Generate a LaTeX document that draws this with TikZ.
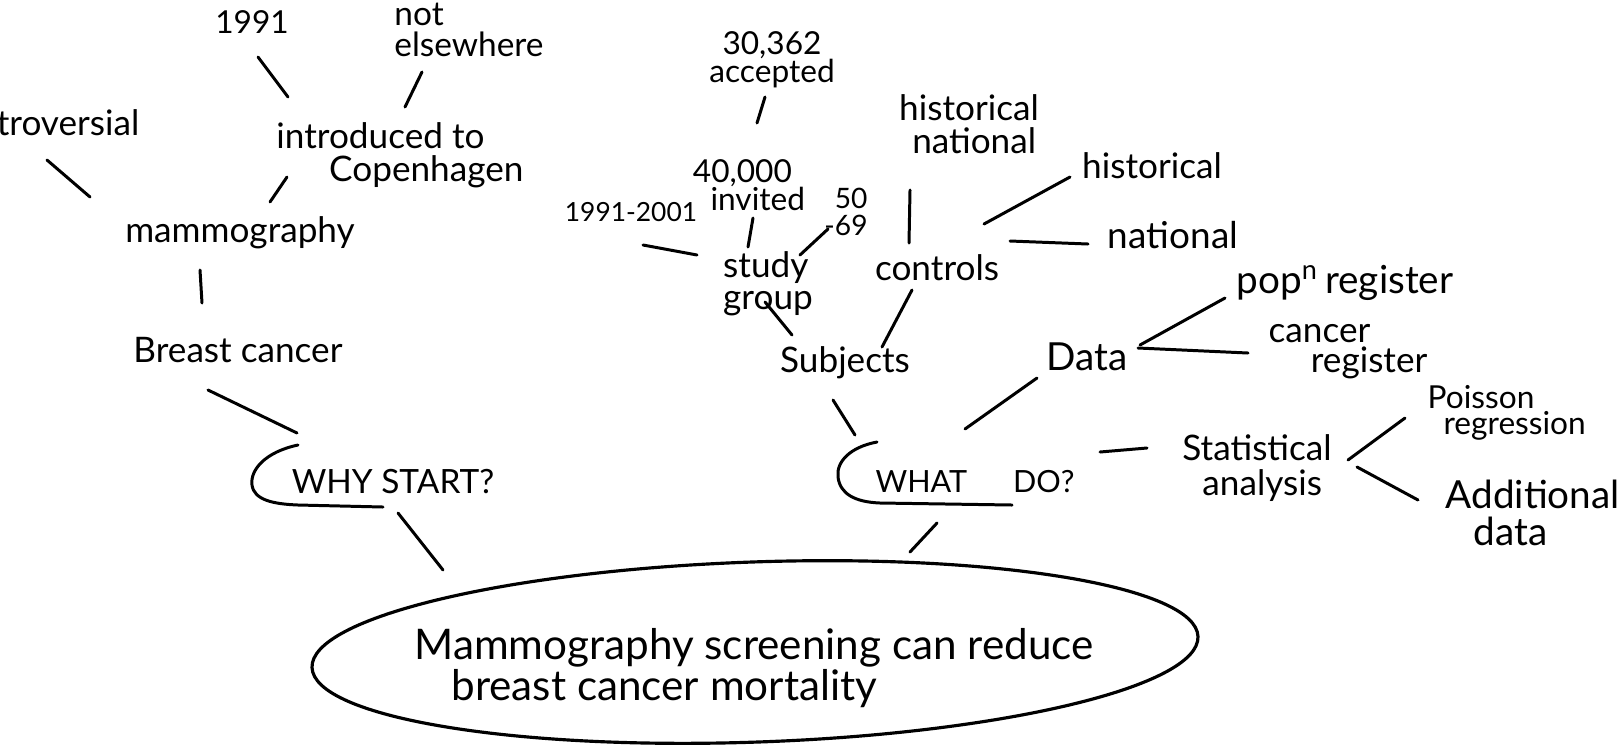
\documentclass[tikz,border=0pt]{standalone}
\usepackage{fontspec}
\setmainfont{Lato}
\usetikzlibrary{shapes.geometric}

\begin{document}
\begin{tikzpicture}[x=0.01cm, y=-0.01cm,
    every node/.style={inner sep=0pt},
    sz/.style 2 args={font=\fontsize{#1}{#2}\selectfont},
    link/.style={line width=0.85pt, line cap=round},
    bracket/.style={line width=0.85pt, line cap=round}]
  \useasboundingbox (0,0) rectangle (1619,745);
  \clip (0,0) rectangle (1619,745);

  % why start
  \node[sz={10}{10}, anchor=east] (contro) at (140,123) {controversial};
  \node[sz={9}{9}] (yr1991) at (252,22) {1991};
  \node[sz={9.5}{9}, align=left] (notelse) at (469,30) {not\\elsewhere};
  \node[sz={10}{9.5}, align=left] (intro) at (400,155) {introduced to\\\hspace*{15pt}Copenhagen};
  \node[sz={10}{10}] (mammo) at (240,233) {mammography};
  \node[sz={10}{10}] (breast) at (238,350) {Breast cancer};
  \node[sz={9.5}{9.5}] (why) at (393,482) {WHY START?};

  % main statement
  \node[draw, ellipse, line width=0.9pt, minimum width=8.86cm, minimum height=1.8cm, rotate=2] (goal) at (755,652) {};
  \node[sz={12}{11.5}, align=left] (goaltext) at (754,668) {Mammography screening can reduce\\\hspace*{10.5pt}breast cancer mortality};

  % what do
  \node[sz={9}{8}, align=center] (acc) at (772,60) {30,362\\accepted};
  \node[sz={9}{8}, align=left] (inv) at (749,185) {40,000\\\hspace*{5pt}invited};
  \node[sz={7.5}{7.5}] (period) at (631,212) {1991-2001};
  \node[sz={8}{7.5}, align=right] (age) at (846,212) {50\\-69};
  \node[sz={10}{9}, align=left] (study) at (768,284) {study\\group};
  \node[sz={10}{10}] (subj) at (845,363) {Subjects};
  \node[sz={10}{9.5}, align=left] (histnat) at (969,124) {historical\\\hspace*{3.7pt}national};
  \node[sz={10}{10}] (ctrl) at (937,268) {controls};
  \node[sz={10}{10}] (hist) at (1152,166) {historical};
  \node[sz={10.5}{10.5}] (natl) at (1173,235) {national};
  \node[sz={11}{11}] (data) at (1087,357) {Data};
  \node[sz={11}{11}] (popreg) at (1345,283) {pop\textsuperscript{n}\,register};
  \node[sz={10}{8.5}, align=left] (canreg) at (1348,352) {cancer\\\hspace*{12pt}register};
  \node[sz={8.7}{8.7}] (what) at (975,482) {WHAT\hspace*{13pt}DO?};
  \node[sz={10}{10}, align=left] (stat) at (1257,468) {Statistical\\\hspace*{5.7pt}analysis};
  \node[sz={9}{7.5}, align=left, anchor=west] (poisson) at (1427,413) {Poisson\\\hspace*{4.5pt}regression};
  \node[sz={11}{10.5}, align=left, anchor=west] (addl) at (1445,513) {Additional\\\hspace*{8pt}data};

  % brackets
  \draw[bracket, shift={(why.center)}] (-95,-37) .. controls (-128,-30) and (-143,-12) .. (-141,3)
    .. controls (-139,18) and (-120,22) .. (-95,23) -- (-10,25);
  \draw[bracket, shift={(what.center)}] (-98,-40) .. controls (-125,-35) and (-139,-20) .. (-137,-5)
    .. controls (-135,12) and (-120,20) .. (-95,21) -- (37,23);

  % connectors
  \draw[link] ([shift={(6,35)}]yr1991.center) -- ([shift={(-112,-58)}]intro.center);
  \draw[link] ([shift={(-47,42)}]notelse.center) -- ([shift={(5,-48)}]intro.center);
  \draw[link] ([shift={(-93,37)}]contro.east) -- ([shift={(-150,-36)}]mammo.center);
  \draw[link] ([shift={(-113,22)}]intro.center) -- ([shift={(30,-31)}]mammo.center);
  \draw[link] ([shift={(-40,37)}]mammo.center) -- ([shift={(-36,-47)}]breast.center);
  \draw[link] ([shift={(-30,40)}]breast.center) -- ([shift={(-96,-49)}]why.center);
  \draw[link] ([shift={(5,31)}]why.center) -- ([shift={(-312,-82)}]goal.center);
  \draw[link] ([shift={(-7,37)}]acc.center) -- ([shift={(8,-62)}]inv.center);
  \draw[link] ([shift={(4,33)}]inv.center) -- ([shift={(-20,-37)}]study.center);
  \draw[link] ([shift={(12,33)}]period.center) -- ([shift={(-71,-29)}]study.center);
  \draw[link] ([shift={(-18,17)}]age.center) -- ([shift={(32,-29)}]study.center);
  \draw[link] ([shift={(-3,18)}]study.center) -- ([shift={(-53,-28)}]subj.center);
  \draw[link] ([shift={(-59,66)}]histnat.center) -- ([shift={(-28,-25)}]ctrl.center);
  \draw[link] ([shift={(-25,22)}]ctrl.center) -- ([shift={(37,-16)}]subj.center);
  \draw[link] ([shift={(47,-44)}]ctrl.center) -- ([shift={(-82,11)}]hist.center);
  \draw[link] ([shift={(73,-27)}]ctrl.center) -- ([shift={(-85,9)}]natl.center);
  \draw[link] ([shift={(-12,37)}]subj.center) -- ([shift={(-120,-47)}]what.center);
  \draw[link] ([shift={(-50,21)}]data.center) -- ([shift={(-10,-53)}]what.center);
  \draw[link] ([shift={(53,-12)}]data.center) -- ([shift={(-120,15)}]popreg.center);
  \draw[link] ([shift={(51,-9)}]data.center) -- ([shift={(-100,1)}]canreg.center);
  \draw[link] ([shift={(125,-30)}]what.center) -- ([shift={(-110,-20)}]stat.center);
  \draw[link] ([shift={(91,-8)}]stat.center) -- ([shift={(-22,5)}]poisson.west);
  \draw[link] ([shift={(100,-1)}]stat.center) -- ([shift={(-27,-13)}]addl.west);
  \draw[link] ([shift={(-38,41)}]what.center) -- ([shift={(155,-100)}]goal.center);
\end{tikzpicture}
\end{document}
